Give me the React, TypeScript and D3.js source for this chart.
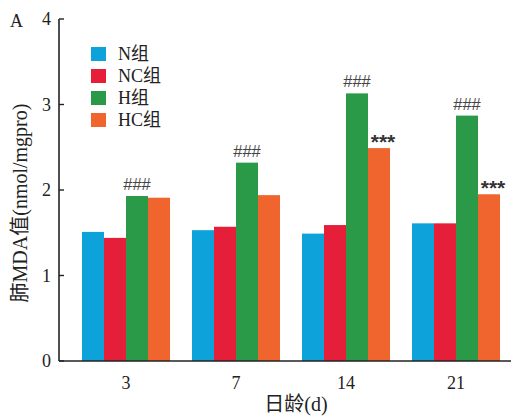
import React, { useEffect, useRef } from 'react';
import * as d3 from 'd3';

const days = ['3', '7', '14', '21'];
const groups = ['N组', 'NC组', 'H组', 'HC组'];
const colors = ['#0EA2DB', '#E51F3A', '#2A9A48', '#F0652D'];
const values: number[][] = [
  [1.51, 1.44, 1.93, 1.91],
  [1.53, 1.57, 2.32, 1.94],
  [1.49, 1.59, 3.13, 2.49],
  [1.61, 1.61, 2.87, 1.95],
];
const hashMarks = ['###', '###', '###', '###'];
const starMarks = ['', '', '***', '***'];
const yTicks = [0, 1, 2, 3, 4];

const W = 522;
const H = 416;
const serif = '"Liberation Serif", "Times New Roman", "Noto Sans CJK SC", serif';

const App: React.FC = () => {
  const svgRef = useRef<SVGSVGElement>(null);

  useEffect(() => {
    if (!svgRef.current) return;
    const svg = d3.select(svgRef.current);
    svg.selectAll('*').remove();

    const axisX = 59;
    const x0 = d3.scaleBand<string>().domain(days).range([71, 511]).paddingInner(0.2).paddingOuter(0.1);
    const x1 = d3.scaleBand<string>().domain(groups).range([0, x0.bandwidth()]);
    const y = d3.scaleLinear().domain([0, 4]).range([361, 19]);

    const g = svg.append('g');

    // bars
    days.forEach((d, i) => {
      const gx = x0(d)!;
      groups.forEach((grp, j) => {
        g.append('rect')
          .attr('x', gx + x1(grp)!)
          .attr('y', y(values[i][j]))
          .attr('width', x1.bandwidth())
          .attr('height', y(0) - y(values[i][j]))
          .attr('fill', colors[j]);
      });
      // significance marks
      const hx = gx + x1('H组')! + x1.bandwidth() / 2;
      g.append('text').attr('x', hx).attr('y', y(values[i][2]) - 6)
        .attr('text-anchor', 'middle').attr('font-family', 'Liberation Sans, sans-serif')
        .attr('font-size', 16.5).attr('fill', '#444').text(hashMarks[i]);
      if (starMarks[i]) {
        const sx = gx + x1('HC组')! + x1.bandwidth() / 2 + 4;
        g.append('text').attr('x', sx).attr('y', y(values[i][3]) + 1)
          .attr('text-anchor', 'middle').attr('font-family', 'Liberation Sans, sans-serif')
          .attr('font-size', 21).attr('font-weight', 'bold').attr('fill', '#333').text(starMarks[i]);
      }
    });

    // axes
    g.append('line').attr('x1', axisX).attr('x2', axisX).attr('y1', y(4)).attr('y2', y(0))
      .attr('stroke', '#222').attr('stroke-width', 1.6);
    g.append('line').attr('x1', axisX).attr('x2', 511).attr('y1', y(0)).attr('y2', y(0))
      .attr('stroke', '#222').attr('stroke-width', 1.6);
    yTicks.forEach(t => {
      g.append('line').attr('x1', axisX).attr('x2', axisX + 5).attr('y1', y(t)).attr('y2', y(t))
        .attr('stroke', '#222').attr('stroke-width', 1.4);
      g.append('text').attr('x', axisX - 8).attr('y', y(t) + 6).attr('text-anchor', 'end')
        .attr('font-family', serif).attr('font-size', 18).attr('fill', '#222').text(t);
    });
    days.forEach(d => {
      g.append('text').attr('x', x0(d)! + x0.bandwidth() / 2).attr('y', 389).attr('text-anchor', 'middle')
        .attr('font-family', serif).attr('font-size', 18).attr('fill', '#222').text(d);
    });

    // axis titles
    g.append('text').attr('x', 296).attr('y', 411).attr('text-anchor', 'middle')
      .attr('font-family', serif).attr('font-size', 20).attr('fill', '#222').text('日龄(d)');
    g.append('text').attr('transform', `translate(27,203) rotate(-90)`).attr('text-anchor', 'middle')
      .attr('font-family', serif).attr('font-size', 20).attr('fill', '#222').text('肺MDA值(nmol/mgpro)');
    g.append('text').attr('x', 10).attr('y', 27).attr('font-family', serif).attr('font-size', 18)
      .attr('fill', '#222').text('A');

    // legend
    groups.forEach((grp, j) => {
      const ly = 54 + j * 22;
      g.append('rect').attr('x', 91).attr('y', ly - 7).attr('width', 15).attr('height', 14).attr('fill', colors[j]);
      g.append('text').attr('x', 118).attr('y', ly + 6).attr('font-family', serif).attr('font-size', 18)
        .attr('fill', '#222').text(grp);
    });
  }, []);

  return (
    <svg ref={svgRef} width={W} height={H}
      style={{ display: 'block', position: 'absolute', left: 0, top: 0, background: '#fff' }} />
  );
};

export default App;
